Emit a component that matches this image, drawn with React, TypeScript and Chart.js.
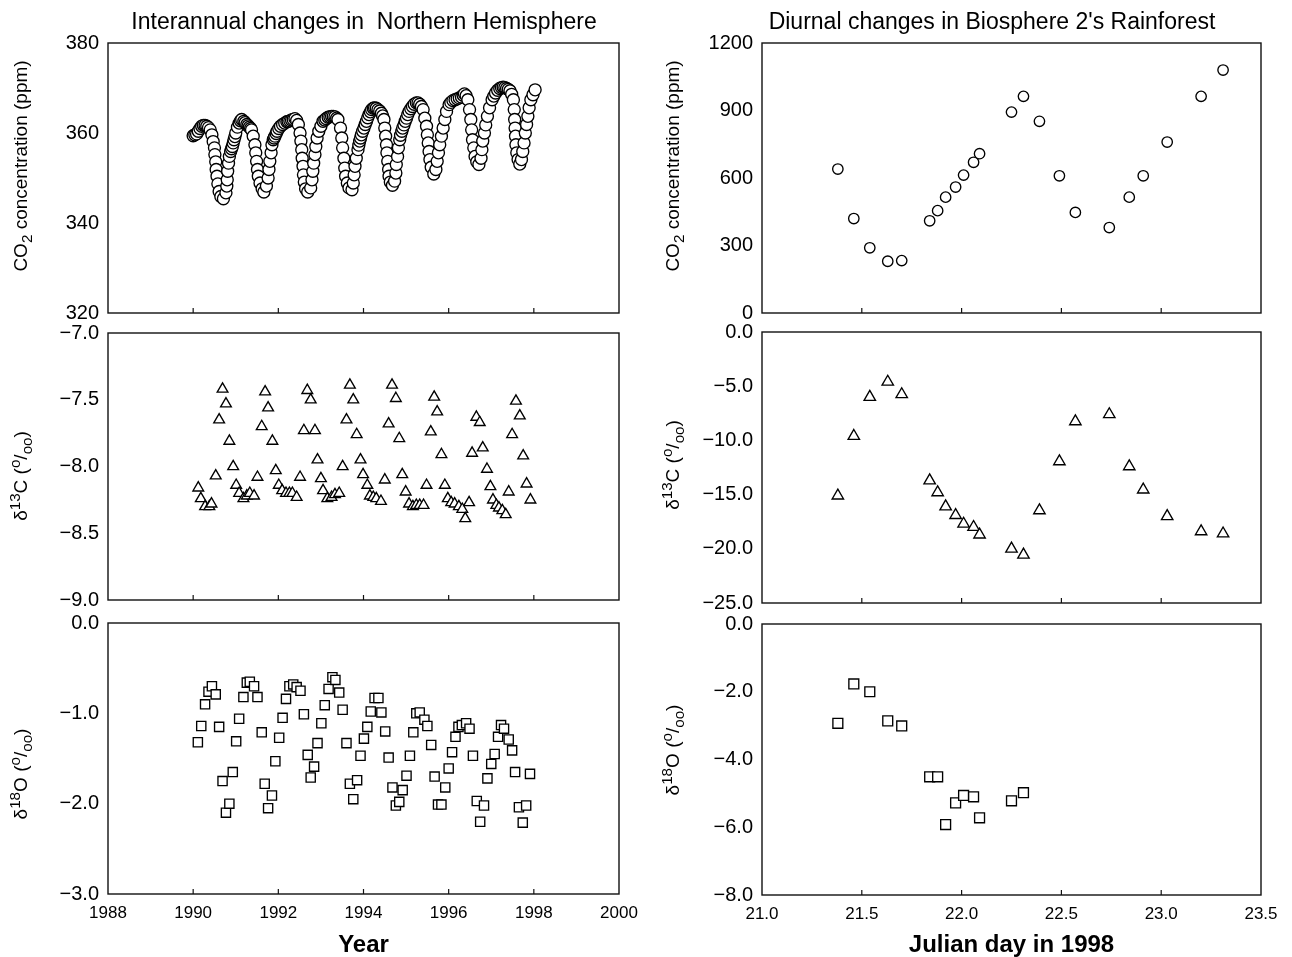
import React, { useEffect, useRef } from 'react';
import { Chart, registerables } from 'chart.js';

Chart.register(...registerables);

// ---------------- DATA ----------------
// Northern Hemisphere CO2 (ppm) vs decimal year
const nhCO2Years = [
  1990.00, 1990.04, 1990.08, 1990.12, 1990.16, 1990.20, 1990.24, 1990.28, 1990.32, 1990.36,
  1990.40, 1990.44, 1990.47, 1990.50, 1990.51, 1990.53, 1990.54, 1990.56, 1990.58, 1990.61,
  1990.65, 1990.71, 1990.77, 1990.79, 1990.80, 1990.81, 1990.83, 1990.85, 1990.88, 1990.90,
  1990.92, 1990.94, 1990.96, 1990.98, 1991.00, 1991.04, 1991.08, 1991.11, 1991.14, 1991.19,
  1991.22, 1991.26, 1991.29, 1991.32, 1991.35, 1991.37, 1991.41, 1991.45, 1991.47, 1991.49,
  1991.51, 1991.53, 1991.57, 1991.62, 1991.66, 1991.72, 1991.76, 1991.78, 1991.80, 1991.83,
  1991.85, 1991.88, 1991.90, 1991.92, 1991.95, 1991.97, 1992.01, 1992.05, 1992.10, 1992.15,
  1992.20, 1992.23, 1992.27, 1992.31, 1992.35, 1992.39, 1992.43, 1992.47, 1992.51, 1992.53,
  1992.55, 1992.56, 1992.58, 1992.59, 1992.61, 1992.64, 1992.69, 1992.76, 1992.79, 1992.81,
  1992.83, 1992.86, 1992.88, 1992.91, 1992.95, 1993.00, 1993.05, 1993.09, 1993.12, 1993.17,
  1993.21, 1993.25, 1993.29, 1993.33, 1993.37, 1993.40, 1993.46, 1993.49, 1993.51, 1993.54,
  1993.56, 1993.58, 1993.62, 1993.66, 1993.73, 1993.76, 1993.78, 1993.80, 1993.83, 1993.87,
  1993.89, 1993.91, 1993.93, 1993.95, 1993.98, 1994.01, 1994.04, 1994.07, 1994.10, 1994.13,
  1994.16, 1994.19, 1994.23, 1994.26, 1994.30, 1994.34, 1994.38, 1994.42, 1994.45, 1994.48,
  1994.50, 1994.52, 1994.54, 1994.55, 1994.57, 1994.59, 1994.60, 1994.63, 1994.68, 1994.73,
  1994.76, 1994.77, 1994.80, 1994.82, 1994.85, 1994.87, 1994.90, 1994.92, 1994.95, 1994.98,
  1995.01, 1995.04, 1995.07, 1995.11, 1995.15, 1995.19, 1995.24, 1995.28, 1995.32, 1995.36,
  1995.40, 1995.44, 1995.48, 1995.50, 1995.52, 1995.54, 1995.56, 1995.59, 1995.65, 1995.70,
  1995.73, 1995.76, 1995.79, 1995.83, 1995.87, 1995.91, 1995.95, 1996.01, 1996.05, 1996.10,
  1996.15, 1996.20, 1996.25, 1996.30, 1996.34, 1996.37, 1996.41, 1996.45, 1996.49, 1996.52,
  1996.54, 1996.56, 1996.59, 1996.62, 1996.66, 1996.71, 1996.76, 1996.78, 1996.80, 1996.84,
  1996.87, 1996.91, 1996.96, 1997.02, 1997.06, 1997.10, 1997.15, 1997.20, 1997.24, 1997.28,
  1997.32, 1997.36, 1997.40, 1997.44, 1997.48, 1997.52, 1997.54, 1997.55, 1997.56, 1997.57,
  1997.58, 1997.60, 1997.63, 1997.67, 1997.71, 1997.74, 1997.77, 1997.80, 1997.83, 1997.86,
  1997.89, 1997.93, 1997.98, 1998.03,
];
const nhCO2 = [
  359.4, 359.6, 359.8, 360.4, 361.0, 361.5, 361.7, 361.7, 361.5, 361.2,
  360.7, 359.6, 358.1, 356.7, 355.2, 353.6, 351.9, 350.4, 348.7, 347.0,
  345.9, 345.4, 346.7, 348.2, 349.6, 351.5, 353.3, 354.8, 355.9, 356.5,
  357.0, 357.8, 358.5, 359.2, 360.0, 361.3, 362.2, 362.7, 363.0, 362.6,
  362.3, 361.9, 361.6, 361.3, 361.0, 360.7, 359.3, 357.4, 355.6, 353.7,
  351.9, 350.4, 348.9, 347.6, 346.9, 348.2, 350.0, 351.9, 353.7, 355.6,
  357.4, 358.5, 358.9, 359.3, 359.9, 360.4, 361.0, 361.5, 361.9, 362.2,
  362.5, 362.6, 362.7, 362.9, 363.0, 363.2, 362.8, 361.9, 360.0, 358.2,
  356.3, 354.4, 352.6, 350.7, 349.1, 347.6, 346.9, 347.8, 349.6, 351.5,
  353.3, 355.2, 357.0, 358.9, 360.4, 361.5, 362.6, 362.9, 363.2, 363.5,
  363.6, 363.7, 363.7, 363.6, 363.3, 363.0, 361.1, 358.9, 356.7, 354.4,
  352.2, 350.4, 348.9, 347.8, 347.4, 348.9, 350.7, 352.6, 354.4, 356.3,
  357.3, 358.2, 358.9, 359.6, 360.4, 361.1, 361.9, 362.6, 363.4, 364.1,
  364.7, 365.2, 365.5, 365.6, 365.5, 365.2, 364.9, 364.4, 363.8, 363.0,
  361.1, 359.3, 357.4, 355.6, 353.7, 351.9, 350.4, 349.1, 348.4, 349.3,
  351.1, 353.0, 354.8, 356.7, 358.5, 359.5, 360.4, 361.1, 361.8, 362.6,
  363.3, 364.1, 364.8, 365.4, 365.9, 366.4, 366.7, 366.7, 366.4, 365.9,
  365.2, 363.3, 361.5, 359.6, 357.8, 355.9, 354.1, 352.4, 350.9, 351.9,
  353.7, 355.6, 357.4, 359.3, 361.1, 363.0, 364.8, 366.3, 366.8, 367.2,
  367.4, 367.6, 367.8, 368.0, 368.4, 368.7, 368.3, 367.4, 365.2, 363.0,
  360.7, 358.5, 356.7, 354.8, 353.6, 353.0, 354.4, 356.3, 358.2, 360.0,
  361.8, 363.7, 365.6, 367.4, 368.2, 368.9, 369.5, 369.9, 370.1, 370.2,
  370.1, 369.9, 369.7, 369.4, 368.6, 367.4, 365.2, 363.0, 361.1, 359.3,
  357.4, 355.6, 354.1, 353.1, 354.1, 355.9, 357.8, 360.0, 361.9, 363.7,
  365.6, 367.4, 368.5, 369.6,
];

// Northern Hemisphere d13C (per mil) vs decimal year
const nhC13Years = [
  1990.12, 1990.18, 1990.28, 1990.38, 1990.43, 1990.53, 1990.61, 1990.69, 1990.77, 1990.85,
  1990.94, 1991.01, 1991.08, 1991.18, 1991.26, 1991.33, 1991.43, 1991.51, 1991.61, 1991.69,
  1991.76, 1991.86, 1991.94, 1992.01, 1992.09, 1992.18, 1992.26, 1992.33, 1992.43, 1992.51,
  1992.60, 1992.68, 1992.76, 1992.86, 1992.92, 1993.00, 1993.05, 1993.15, 1993.25, 1993.33,
  1993.43, 1993.51, 1993.60, 1993.68, 1993.76, 1993.84, 1993.93, 1993.99, 1994.09, 1994.15,
  1994.23, 1994.30, 1994.41, 1994.50, 1994.59, 1994.67, 1994.76, 1994.84, 1994.91, 1994.99,
  1995.07, 1995.16, 1995.24, 1995.32, 1995.41, 1995.48, 1995.58, 1995.66, 1995.73, 1995.83,
  1995.91, 1995.98, 1996.06, 1996.14, 1996.24, 1996.32, 1996.39, 1996.48, 1996.55, 1996.65,
  1996.73, 1996.80, 1996.90, 1996.98, 1997.04, 1997.12, 1997.18, 1997.26, 1997.34, 1997.41,
  1997.49, 1997.58, 1997.67, 1997.75, 1997.83, 1997.92,
];
const nhC13 = [
  -8.16, -8.24, -8.30, -8.30, -8.28, -8.07, -7.65, -7.42, -7.53, -7.81,
  -8.00, -8.14, -8.20, -8.24, -8.22, -8.20, -8.22, -8.08, -7.70, -7.44,
  -7.56, -7.81, -8.03, -8.14, -8.18, -8.20, -8.20, -8.20, -8.23, -8.08,
  -7.73, -7.43, -7.50, -7.73, -7.95, -8.09, -8.18, -8.24, -8.23, -8.21,
  -8.20, -8.00, -7.65, -7.39, -7.50, -7.76, -7.95, -8.06, -8.14, -8.22,
  -8.23, -8.24, -8.26, -8.10, -7.68, -7.39, -7.49, -7.79, -8.06, -8.19,
  -8.28, -8.30, -8.29, -8.29, -8.29, -8.14, -7.74, -7.48, -7.59, -7.91,
  -8.14, -8.24, -8.27, -8.28, -8.30, -8.32, -8.39, -8.27, -7.90, -7.63,
  -7.67, -7.86, -8.02, -8.15, -8.25, -8.29, -8.31, -8.33, -8.36, -8.19,
  -7.76, -7.51, -7.62, -7.92, -8.13, -8.25,
];

// Northern Hemisphere d18O (per mil) vs decimal year
const nhO18Years = [
  1990.11, 1990.19, 1990.28, 1990.36, 1990.44, 1990.53, 1990.61, 1990.69, 1990.77, 1990.85,
  1990.93, 1991.01, 1991.08, 1991.18, 1991.26, 1991.33, 1991.43, 1991.51, 1991.61, 1991.68,
  1991.76, 1991.85, 1991.93, 1992.02, 1992.10, 1992.18, 1992.26, 1992.35, 1992.43, 1992.52,
  1992.60, 1992.69, 1992.76, 1992.84, 1992.92, 1993.01, 1993.09, 1993.18, 1993.27, 1993.34,
  1993.43, 1993.51, 1993.60, 1993.68, 1993.76, 1993.85, 1993.93, 1994.01, 1994.09, 1994.17,
  1994.26, 1994.35, 1994.42, 1994.51, 1994.59, 1994.68, 1994.76, 1994.84, 1994.92, 1995.01,
  1995.09, 1995.17, 1995.24, 1995.32, 1995.43, 1995.50, 1995.59, 1995.67, 1995.75, 1995.83,
  1995.92, 1996.00, 1996.08, 1996.16, 1996.23, 1996.31, 1996.41, 1996.49, 1996.57, 1996.66,
  1996.74, 1996.83, 1996.91, 1997.00, 1997.08, 1997.16, 1997.23, 1997.30, 1997.41, 1997.49,
  1997.56, 1997.65, 1997.74, 1997.82, 1997.91,
];
const nhO18 = [
  -1.32, -1.14, -0.90, -0.76, -0.70, -0.79, -1.15, -1.75, -2.10, -2.00,
  -1.65, -1.31, -1.06, -0.82, -0.66, -0.65, -0.70, -0.82, -1.21, -1.78,
  -2.05, -1.91, -1.53, -1.27, -1.05, -0.84, -0.70, -0.68, -0.71, -0.75,
  -1.01, -1.46, -1.71, -1.59, -1.33, -1.11, -0.91, -0.73, -0.60, -0.63,
  -0.77, -0.96, -1.33, -1.78, -1.95, -1.74, -1.47, -1.28, -1.15, -0.98,
  -0.83, -0.83, -0.99, -1.20, -1.49, -1.82, -2.02, -1.98, -1.85, -1.69,
  -1.47, -1.21, -1.00, -0.99, -1.07, -1.14, -1.35, -1.70, -2.01, -2.01,
  -1.82, -1.61, -1.43, -1.26, -1.15, -1.13, -1.11, -1.17, -1.47, -1.97,
  -2.20, -2.02, -1.72, -1.56, -1.45, -1.26, -1.13, -1.17, -1.29, -1.41,
  -1.65, -2.04, -2.21, -2.02, -1.67,
];

// Biosphere 2 rainforest, Julian day in 1998
const b2Days = [
  21.38, 21.46, 21.54, 21.63, 21.70, 21.84, 21.88, 21.92, 21.97, 22.01,
  22.06, 22.09, 22.25, 22.31, 22.39, 22.49, 22.57, 22.74, 22.84, 22.91,
  23.03, 23.20, 23.31,
];
const b2CO2 = [
  640, 420, 290, 230, 233, 410, 455, 515, 560, 613,
  670, 708, 893, 963, 852, 610, 447, 380, 515, 610,
  760, 963, 1080,
];
const b2C13 = [
  -15.1, -9.6, -6.0, -4.6, -5.75, -13.7, -14.8, -16.1, -16.9, -17.7,
  -18.0, -18.7, -20.0, -20.55, -16.46, -11.94, -8.25, -7.6, -12.4, -14.55,
  -17.0, -18.4, -18.6,
];
const b2O18Days = [
  21.38, 21.46, 21.54, 21.63, 21.70, 21.84, 21.88, 21.92, 21.97, 22.01,
  22.06, 22.09, 22.25, 22.31,
];
const b2O18 = [
  -2.93, -1.77, -2.0, -2.86, -3.01, -4.51, -4.51, -5.92, -5.28, -5.06,
  -5.10, -5.72, -5.22, -4.98,
];

// ---------------- LAYOUT / STYLE ----------------
const W = 1292;
const H = 957;
const FONT = '"Liberation Sans", Arial, Helvetica, sans-serif';
const INK = '#000';
const YW = 100;

type Seg = { t: string; s?: number; dy?: number };
type TextItem = { segs: Seg[]; x: number; y: number; size: number; rot?: number; weight?: string };

function drawRich(ctx: CanvasRenderingContext2D, it: TextItem) {
  ctx.save();
  ctx.translate(it.x, it.y);
  if (it.rot) ctx.rotate(it.rot);
  ctx.textBaseline = 'middle';
  ctx.textAlign = 'left';
  ctx.fillStyle = INK;
  const w = it.weight || 'normal';
  const widths = it.segs.map((sg) => {
    ctx.font = `${w} ${it.size * (sg.s ?? 1)}px ${FONT}`;
    return ctx.measureText(sg.t).width;
  });
  const total = widths.reduce((a, b) => a + b, 0);
  let cx = -total / 2;
  it.segs.forEach((sg, i) => {
    ctx.font = `${w} ${it.size * (sg.s ?? 1)}px ${FONT}`;
    ctx.fillText(sg.t, cx, (sg.dy ?? 0) * it.size);
    cx += widths[i];
  });
  ctx.restore();
}

function makeFigPlugin(texts: TextItem[]) {
  return {
    id: 'figFrame',
    beforeDatasetsDraw(chart: any) {
      const { ctx, chartArea: a } = chart;
      ctx.save();
      ctx.strokeStyle = '#111';
      ctx.lineWidth = 1.4;
      ctx.strokeRect(a.left, a.top, a.right - a.left, a.bottom - a.top);
      const xs = chart.scales.x;
      ctx.lineWidth = 1.2;
      xs.ticks.forEach((t: any) => {
        const px = xs.getPixelForValue(t.value);
        if (px > a.left + 2 && px < a.right - 2) {
          ctx.beginPath();
          ctx.moveTo(px, a.bottom);
          ctx.lineTo(px, a.bottom - 5);
          ctx.stroke();
        }
      });
      ctx.restore();
    },
    afterDraw(chart: any) {
      texts.forEach((t) => drawRich(chart.ctx, t));
    },
  };
}

const minus = (s: string) => s.replace('-', '\u2212');
const fmt1 = (v: number) => minus(Number(v).toFixed(1));
const fmt0 = (v: number) => minus(Number(v).toFixed(0));

const ROT = -Math.PI / 2;
const SUP = 0.8;
const d13Segs: Seg[] = [
  { t: '\u03b4' }, { t: '13', s: SUP, dy: -0.3 }, { t: 'C (' },
  { t: 'o', s: SUP, dy: -0.3 }, { t: '/' }, { t: 'oo', s: SUP, dy: 0.28 }, { t: ')' },
];
const d18Segs: Seg[] = [
  { t: '\u03b4' }, { t: '18', s: SUP, dy: -0.3 }, { t: 'O (' },
  { t: 'o', s: SUP, dy: -0.3 }, { t: '/' }, { t: 'oo', s: SUP, dy: 0.28 }, { t: ')' },
];
const co2Segs: Seg[] = [{ t: 'CO' }, { t: '2', s: SUP, dy: 0.28 }, { t: ' concentration (ppm)' }];

type PanelSpec = {
  xs: number[]; ys: number[];
  xMin: number; xMax: number; xStep: number; xFmt: (v: number) => string;
  yMin: number; yMax: number; yStep: number; yFmt: (v: number) => string;
  L: number; R: number; T: number; B: number;
  style: string; r: number;
  xTitle?: string;
  texts: TextItem[];
};

const LEFT = { L: 108, R: 619 };
const RIGHT = { L: 762, R: 1261 };
const YT = 19;

const PANELS: PanelSpec[] = [
  {
    xs: nhCO2Years, ys: nhCO2, xMin: 1988, xMax: 2000, xStep: 2, xFmt: fmt0,
    yMin: 320, yMax: 380, yStep: 20, yFmt: fmt0, ...LEFT, T: 43, B: 313, style: 'circle', r: 6,
    texts: [
      { segs: [{ t: 'Interannual changes in  Northern Hemisphere' }], x: 364, y: 23, size: 23 },
      { segs: co2Segs, x: 22, y: 166, size: YT, rot: ROT },
    ],
  },
  {
    xs: nhC13Years, ys: nhC13, xMin: 1988, xMax: 2000, xStep: 2, xFmt: fmt0,
    yMin: -9, yMax: -7, yStep: 0.5, yFmt: fmt1, ...LEFT, T: 333, B: 600, style: 'triangle', r: 6.2,
    texts: [{ segs: d13Segs, x: 22, y: 476, size: YT, rot: ROT }],
  },
  {
    xs: nhO18Years, ys: nhO18, xMin: 1988, xMax: 2000, xStep: 2, xFmt: fmt0,
    yMin: -3, yMax: 0, yStep: 1, yFmt: fmt1, ...LEFT, T: 623, B: 894, style: 'rect', r: 6.5,
    xTitle: 'Year',
    texts: [{ segs: d18Segs, x: 22, y: 774, size: YT, rot: ROT }],
  },
  {
    xs: b2Days, ys: b2CO2, xMin: 21, xMax: 23.5, xStep: 0.5, xFmt: fmt1,
    yMin: 0, yMax: 1200, yStep: 300, yFmt: fmt0, ...RIGHT, T: 43, B: 313, style: 'circle', r: 5.2,
    texts: [
      { segs: [{ t: "Diurnal changes in Biosphere 2's Rainforest" }], x: 992, y: 23, size: 23 },
      { segs: co2Segs, x: 674, y: 166, size: YT, rot: ROT },
    ],
  },
  {
    xs: b2Days, ys: b2C13, xMin: 21, xMax: 23.5, xStep: 0.5, xFmt: fmt1,
    yMin: -25, yMax: 0, yStep: 5, yFmt: fmt1, ...RIGHT, T: 332, B: 603, style: 'triangle', r: 6.6,
    texts: [{ segs: d13Segs, x: 674, y: 465, size: YT, rot: ROT }],
  },
  {
    xs: b2O18Days, ys: b2O18, xMin: 21, xMax: 23.5, xStep: 0.5, xFmt: fmt1,
    yMin: -8, yMax: 0, yStep: 2, yFmt: fmt1, ...RIGHT, T: 624, B: 895, style: 'rect', r: 7,
    xTitle: 'Julian day in 1998',
    texts: [{ segs: d18Segs, x: 674, y: 750, size: YT, rot: ROT }],
  },
];

function makeConfig(p: PanelSpec): any {
  const showX = !!p.xTitle;
  const xh = showX ? H - p.B : 0;
  return {
    type: 'scatter',
    data: {
      datasets: [
        {
          data: p.xs.map((x, i) => ({ x, y: p.ys[i] })),
          pointStyle: p.style,
          pointRadius: p.r,
          pointHoverRadius: p.r,
          pointBackgroundColor: '#ffffff',
          pointBorderColor: '#000',
          pointBorderWidth: 1.35,
          showLine: false,
        },
      ],
    },
    options: {
      responsive: false,
      animation: false,
      devicePixelRatio: 1,
      events: [],
      layout: { padding: { left: p.L - YW, right: W - p.R, top: p.T, bottom: H - p.B - xh } },
      plugins: { legend: { display: false }, tooltip: { enabled: false }, title: { display: false } },
      scales: {
        x: {
          type: 'linear',
          min: p.xMin,
          max: p.xMax,
          grid: { display: false, drawTicks: false },
          border: { display: false },
          ticks: {
            display: showX,
            stepSize: p.xStep,
            autoSkip: false,
            maxRotation: 0,
            padding: 9,
            color: INK,
            font: { family: FONT, size: 17 },
            callback: (v: number) => p.xFmt(v),
          },
          title: {
            display: showX,
            text: p.xTitle || '',
            color: INK,
            font: { family: FONT, size: 24, weight: 'bold', lineHeight: 1 },
            padding: { top: 0, bottom: 0 },
          },
          afterFit: (s: any) => { s.height = xh; },
        },
        y: {
          type: 'linear',
          min: p.yMin,
          max: p.yMax,
          grid: { display: false, drawTicks: false },
          border: { display: false },
          ticks: {
            stepSize: p.yStep,
            padding: 9,
            color: INK,
            font: { family: FONT, size: 20 },
            callback: (v: number) => p.yFmt(v),
          },
          afterFit: (s: any) => { s.width = YW; },
        },
      },
    },
    plugins: [makeFigPlugin(p.texts)],
  };
}

function Panel({ spec }: { spec: PanelSpec }) {
  const ref = useRef<HTMLCanvasElement>(null);
  useEffect(() => {
    if (!ref.current) return;
    const chart = new Chart(ref.current, makeConfig(spec));
    return () => chart.destroy();
  }, [spec]);
  return (
    <canvas
      ref={ref}
      width={W}
      height={H}
      style={{ position: 'absolute', left: 0, top: 0, width: W, height: H }}
    />
  );
}

export default function App() {
  useEffect(() => {
    document.body.style.margin = '0';
    document.documentElement.style.overflow = 'hidden';
  }, []);
  return (
    <div
      style={{ position: 'absolute', left: 0, top: 0, width: W, height: H, background: '#fff', overflow: 'hidden' }}
    >
      {PANELS.map((p, i) => (
        <Panel key={i} spec={p} />
      ))}
    </div>
  );
}
